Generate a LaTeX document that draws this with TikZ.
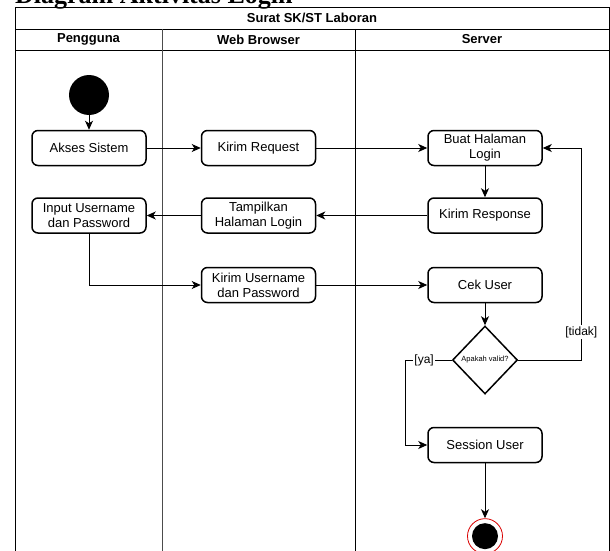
\documentclass[tikz,border=0pt]{standalone}
\usepackage{fontspec}
\setmainfont{Liberation Sans}
\newfontfamily\titlefont{Liberation Serif}
\usetikzlibrary{arrows.meta,positioning,shapes.geometric}

\begin{document}
\begin{tikzpicture}[
  x=1pt,y=-1pt,
  node distance=31pt and 54pt,
  lane/.style={line width=.9pt},
  head/.style={font=\bfseries\fontsize{13}{15}\selectfont},
  action/.style={draw,rounded corners=6pt,line width=1.5pt,minimum width=114pt,minimum height=35pt,align=center,inner sep=1pt,font=\fontsize{13}{15}\selectfont},
  decision/.style={draw,diamond,line width=1.5pt,minimum width=65pt,minimum height=68pt,inner sep=0pt,font=\fontsize{7.5}{9}\selectfont},
  guard/.style={fill=white,inner sep=1pt,font=\fontsize{12}{14}\selectfont},
  flow/.style={line width=1pt,-{Stealth[length=9pt,width=8pt,inset=2.5pt]}}
]
  \useasboundingbox (0,0) rectangle (610,551);
  \node[anchor=base west,inner sep=0pt,font=\titlefont\bfseries\fontsize{26}{30}\selectfont] (title) at (15,3.5) {Diagram Aktivitas Login};

  % swimlanes
  \draw[lane] (15,560) -- (15,7.5) -- (609,7.5) -- (609,560);
  \draw[lane] (15,29) -- (609,29);
  \draw[lane] (15,50) -- (609,50);
  \draw[lane,black!70] (162,29) -- (162,560);
  \draw[lane] (355,29) -- (355,560);
  \node[head] (pool) at (312,18) {Surat SK/ST Laboran};
  \node[head] (pengguna) at (88.5,39.5) {Pengguna};
  \node[head] (browser) at (258.5,39.5) {Web Browser};
  \node[head] (server) at (482,39.5) {Server};

  % activities
  \node[circle,fill=black,minimum size=40pt,inner sep=0pt] (start) at (89,95) {};
  \node[action] (akses) at (89,148) {Akses Sistem};
  \node[action,right=of akses] (request) {Kirim Request};
  \node[action,right=111pt of request] (buat) {Buat Halaman\\Login};
  \node[action,below=of akses] (input) {Input Username\\dan Password};
  \node[action,below=of request] (tampil) {Tampilkan\\Halaman Login};
  \node[action,below=of buat] (response) {Kirim Response};
  \node[action,below=33pt of tampil] (kirimuser) {Kirim Username\\dan Password};
  \node[action,below=33pt of response] (cek) {Cek User};
  \node[decision,below=22pt of cek] (valid) {Apakah valid?};
  \node[action,below=32pt of valid] (session) {Session User};
  \node[circle,draw=red!85!black,line width=.8pt,minimum size=35pt,inner sep=0pt,below=55pt of session,
    path picture={\fill (path picture bounding box.center) circle (13pt);}] (finish) {};

  % transitions
  \draw[flow] (start) -- (akses);
  \draw[flow] (akses) -- (request);
  \draw[flow] (request) -- (buat);
  \draw[flow] (buat) -- (response);
  \draw[flow] (response) -- (tampil);
  \draw[flow] (tampil) -- (input);
  \draw[flow] (input) |- (kirimuser);
  \draw[flow] (kirimuser) -- (cek);
  \draw[flow] (cek) -- (valid);
  \draw[flow] (valid.east) -- ++(63,0) node[guard,yshift=28pt] (tidak) {[tidak]} |- (buat.east);
  \draw[flow] (valid.west) -- node[guard,pos=.6] (ya) {[ya]} ++(-46,0) |- (session.west);
  \draw[flow] (session) -- (finish);
\end{tikzpicture}
\end{document}
